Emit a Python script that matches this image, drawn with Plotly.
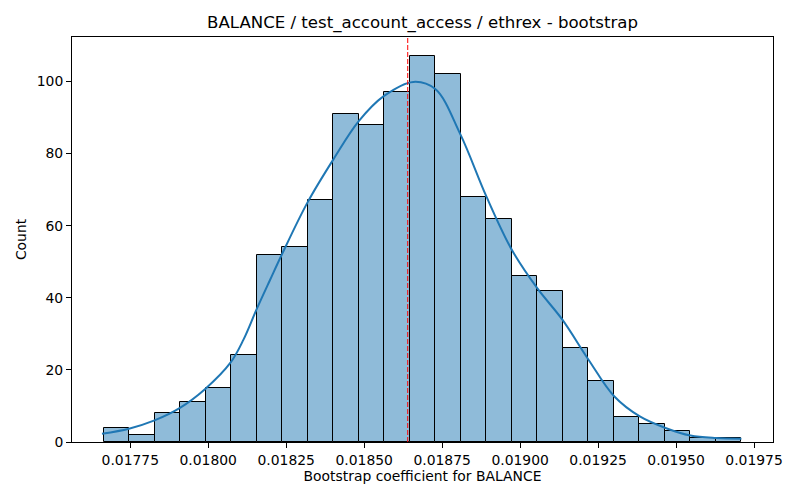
import numpy as np
import plotly.graph_objects as go

# histogram (seaborn histplot, 25 bins)
bin_start = 0.0176645
bin_width = 0.0000818
counts = [4, 2, 8, 11, 15, 24, 52, 54, 67, 91, 88, 97, 107,
          102, 68, 62, 46, 42, 26, 17, 7, 5, 3, 1, 1]

# kde curve (count scale)
kde_x = [0.0176593, 0.0177458, 0.0178278, 0.0179080, 0.0179912, 0.0180713,
         0.0181130, 0.0181546, 0.0181985, 0.0182360, 0.0183180, 0.0184013,
         0.0184826, 0.0185637, 0.0186576, 0.0187280, 0.0188081, 0.0188914,
         0.0189728, 0.0190554, 0.0191349, 0.0192188, 0.0193015, 0.0193838,
         0.0194661, 0.0195462, 0.0196289, 0.0197096]
kde_y = [2.3, 3.7, 6.0, 9.4, 14.8, 22.0,
         28.4, 36.7, 45.0, 52.0, 66.4, 78.4,
         89.0, 96.0, 99.9, 97.9, 85.4, 68.2,
         53.4, 42.6, 34.0, 22.9, 12.7, 7.1,
         3.9, 1.8, 1.1, 0.9]

mean_coef = 0.0186396
x_ticks = [0.01775, 0.01800, 0.01825, 0.01850, 0.01875, 0.01900, 0.01925, 0.01950, 0.01975]
y_ticks = [0, 20, 40, 60, 80, 100]

centers = bin_start + bin_width * (np.arange(len(counts)) + 0.5)

fig = go.Figure()
fig.add_trace(go.Bar(
    x=centers, y=counts, width=bin_width,
    marker=dict(color="#8fbbd9", line=dict(color="black", width=1)),
    showlegend=False, hoverinfo="skip",
))
fig.add_trace(go.Scatter(
    x=kde_x, y=kde_y, mode="lines",
    line=dict(color="#1f77b4", width=2, shape="spline", smoothing=1.0),
    showlegend=False,
))
fig.add_shape(type="line", xref="x", yref="paper", x0=mean_coef, x1=mean_coef,
              y0=0, y1=1, line=dict(color="red", width=1, dash="5px,2px"))

axis_common = dict(
    showgrid=False, zeroline=False, showline=True, linecolor="black", linewidth=1,
    mirror=True, ticks="outside", ticklen=5, tickcolor="black", automargin=False,
    tickfont=dict(family="DejaVu Sans", size=13.9, color="black"),
)

fig.update_xaxes(
    range=[0.0175632, 0.0198108], tickvals=x_ticks,
    ticktext=[f"{t:.5f}" for t in x_ticks],
    title=dict(text="Bootstrap coefficient for BALANCE",
               font=dict(family="DejaVu Sans", size=13.9, color="black"), standoff=4),
    **axis_common,
)
fig.update_yaxes(
    range=[0, 112.35], tickvals=y_ticks,
    title=dict(text="Count", font=dict(family="DejaVu Sans", size=13.9, color="black"), standoff=6),
    **axis_common,
)

# page body has an 8px margin, so the figure is 8px smaller and shifted
fig.update_layout(
    width=792, height=492,
    margin=dict(l=64, r=27, t=29, b=58, autoexpand=False),
    bargap=0,
    plot_bgcolor="white", paper_bgcolor="white",
    title=dict(text="BALANCE / test_account_access / ethrex - bootstrap",
               x=0.5, xref="paper", xanchor="center", y=1 - 14 / 492, yanchor="middle",
               font=dict(family="DejaVu Sans", size=16.6, color="black")),
    font=dict(family="DejaVu Sans", color="black"),
)

fig.write_html("out.html")
